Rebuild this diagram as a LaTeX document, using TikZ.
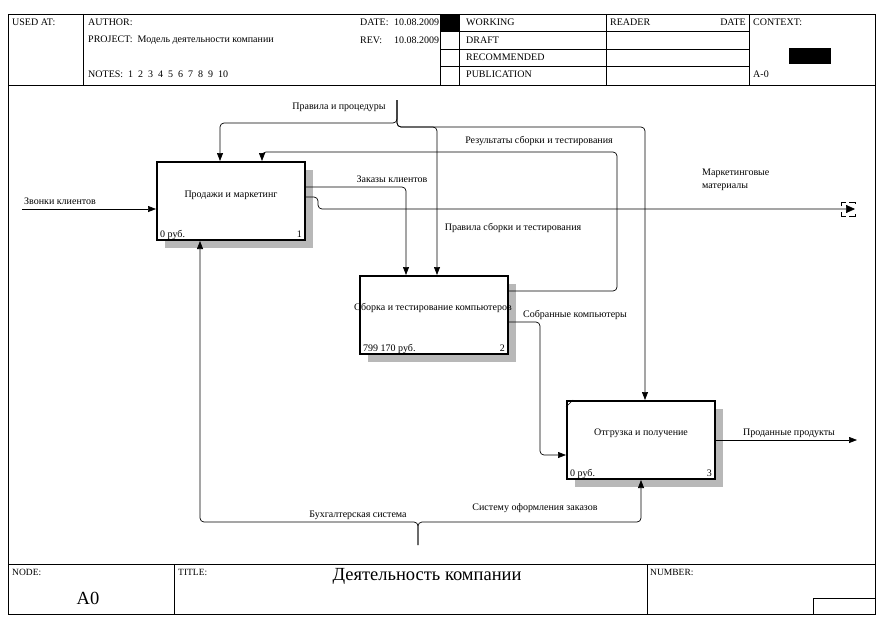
\documentclass[tikz,border=0pt]{standalone}
\usepackage{fontspec}
\setmainfont{Liberation Serif}
\usetikzlibrary{arrows.meta,calc,shadows}
\definecolor{shadowgray}{gray}{0.72}
\begin{document}
\begin{tikzpicture}[x=1pt,y=-1pt,
  lbl/.style={font=\fontsize{10}{12.5}\selectfont, inner sep=0pt},
  hdr/.style={font=\fontsize{10}{12}\selectfont, inner sep=0pt, anchor=west},
  tiny/.style={font=\fontsize{9.5}{11}\selectfont, inner sep=0pt, anchor=west},
  big/.style={font=\fontsize{18.5}{21}\selectfont, inner sep=0pt},
  box/.style={draw, line width=2pt, fill=white, minimum width=148pt, minimum height=78pt, inner sep=0pt,
    drop shadow={shadow xshift=8pt, shadow yshift=-8pt, fill=shadowgray, opacity=1}},
  arr/.style={-{Triangle[length=8pt,width=6pt]}, line width=0.7pt, rounded corners=4pt},
  frame/.style={line width=0.9pt}]
\useasboundingbox (0,0) rectangle (885,626);
% outer frame
\draw[frame] (8,14) rectangle (875,614);
% header
\draw[frame] (8,85) -- (875,85);
\draw[frame] (83,14) -- (83,85);
\draw[frame] (440,14) -- (440,85);
\draw[frame] (459,14) -- (459,85);
\draw[frame] (606,14) -- (606,85);
\draw[frame] (749,14) -- (749,85);
\foreach \yy in {31.5,49,66.5} \draw[frame] (440,\yy) -- (749,\yy);
\fill (440,14) rectangle (459,31.5);
\fill (789,48) rectangle (831,64);
\node[hdr] (usedat) at (12,22) {USED AT:};
\node[hdr] (author) at (88,22) {AUTHOR:};
\node[hdr] (project) at (88,40) {PROJECT:\ \ Модель деятельности компании};
\node[hdr] (notes) at (88,74) {NOTES:\ \ 1\ \ 2\ \ 3\ \ 4\ \ 5\ \ 6\ \ 7\ \ 8\ \ 9\ \ 10};
\node[hdr] (date) at (360,22) {DATE:};
\node[hdr] (dateval) at (394,22) {10.08.2009};
\node[hdr] (rev) at (360,40) {REV:};
\node[hdr] (revval) at (394,40) {10.08.2009};
\node[hdr] (working) at (466,22) {WORKING};
\node[hdr] (draft) at (466,40) {DRAFT};
\node[hdr] (recom) at (466,57) {RECOMMENDED};
\node[hdr] (publ) at (466,74) {PUBLICATION};
\node[hdr] (reader) at (610,22) {READER};
\node[hdr, anchor=east] (rdate) at (746,22) {DATE};
\node[hdr] (context) at (753,22) {CONTEXT:};
\node[hdr] (actx) at (753,74) {A-0};
% footer
\draw[frame] (8,564) -- (875,564);
\draw[frame] (174,564) -- (174,614);
\draw[frame] (647,564) -- (647,614);
\draw[frame] (813,614) -- (813,598) -- (875,598);
\node[tiny] (nodelbl) at (12,572) {NODE:};
\node[tiny] (titlelbl) at (178,572) {TITLE:};
\node[tiny] (numlbl) at (650,572) {NUMBER:};
\node[big] (a0) at (88,598) {A0};
\node[big] (title) at (427,576) {Деятельность компании};
% boxes
\node[box] (b1) at (231,201) {};
\node[box] (b2) at (434,315) {};
\node[box] (b3) at (641,440) {};
\node[lbl] (t1) at (231,195) {Продажи и маркетинг};
\node[lbl] (t2) at (433,308) {Сборка и тестирование компьютеров};
\node[lbl] (t3) at (641,433) {Отгрузка и получение};
\node[lbl, anchor=base west] (c1) at ([shift={(4pt,4pt)}]b1.south west) {0 руб.};
\node[lbl, anchor=base east] (n1) at ([shift={(-4pt,4pt)}]b1.south east) {1};
\node[lbl, anchor=base west] (c2) at ([shift={(4pt,4pt)}]b2.south west) {799 170 руб.};
\node[lbl, anchor=base east] (n2) at ([shift={(-4pt,4pt)}]b2.south east) {2};
\node[lbl, anchor=base west] (c3) at ([shift={(4pt,4pt)}]b3.south west) {0 руб.};
\node[lbl, anchor=base east] (n3) at ([shift={(-4pt,4pt)}]b3.south east) {3};
\draw[line width=0.6pt] ([yshift=-7pt]b3.north west) -- ([xshift=7pt]b3.north west);
% coordinates
\coordinate (inA) at (22,209);
\coordinate (ctop) at (397,100);
\coordinate (cL) at (220,123);
\coordinate (cM) at (437,127);
\coordinate (cR) at (645,127);
\coordinate (rR) at (617,152);
\coordinate (rL) at (262,152);
\coordinate (zk) at (406,187);
\coordinate (mk) at (318,197);
\coordinate (mkend) at (855,209);
\coordinate (sb) at (540,322);
\coordinate (outP) at (857,440);
\coordinate (mb) at (418,545);
\coordinate (mbL) at (200,522);
\coordinate (mbR) at (641,522);
% connectors
\draw[arr] (inA) -- (inA -| b1.west);
\draw[arr] (ctop) -- (ctop |- cL) -- (cL) -- (cL |- b1.north);
\draw[arr] (ctop) -- (ctop |- cM) -- (cM) -- (cM |- b2.north);
\draw[arr] (ctop) -- (ctop |- cR) -- (cR) -- (cR |- b3.north);
\draw[arr] (b2.east |- 0,291) -- (rR |- 0,291) -- (rR) -- (rL) -- (rL |- b1.north);
\draw[arr] (b1.east |- zk) -- (zk) -- (zk |- b2.north);
\draw[-{Triangle[length=9pt,width=8pt]}, line width=0.7pt, rounded corners=4pt] (b1.east |- mk) -- (mk) -- (mk |- mkend) -- (mkend);
\draw[line width=0.9pt] (841,206) -- (841,202) -- (846,202) (849,202) -- (855,202) -- (855,204)
  (841,212) -- (841,216) -- (846,216) (849,216) -- (855,216) -- (855,214);
\draw[arr] (b2.east |- sb) -- (sb) -- (sb |- 0,455) -- (b3.west |- 0,455);
\draw[arr] (b3.east |- outP) -- (outP);
\draw[arr] (mb) -- (mb |- mbL) -- (mbL) -- (mbL |- b1.south);
\draw[arr] (mb) -- (mb |- mbR) -- (mbR) -- (mbR |- b3.south);
% labels
\node[lbl] (l1) at (60,201) {Звонки клиентов};
\node[lbl] (l2) at (339,107) {Правила и процедуры};
\node[lbl] (l3) at (539,141) {Результаты сборки и тестирования};
\node[lbl] (l4) at (392,179) {Заказы клиентов};
\node[lbl] (l5) at (513,228) {Правила сборки и тестирования};
\node[lbl, anchor=west, align=left] (l6) at (702,180) {Маркетинговые\\материалы};
\node[lbl] (l7) at (575,315) {Собранные компьютеры};
\node[lbl] (l8) at (789,433) {Проданные продукты};
\node[lbl] (l9) at (358,515) {Бухгалтерская система};
\node[lbl] (l10) at (535,508) {Систему оформления заказов};
\end{tikzpicture}
\end{document}
